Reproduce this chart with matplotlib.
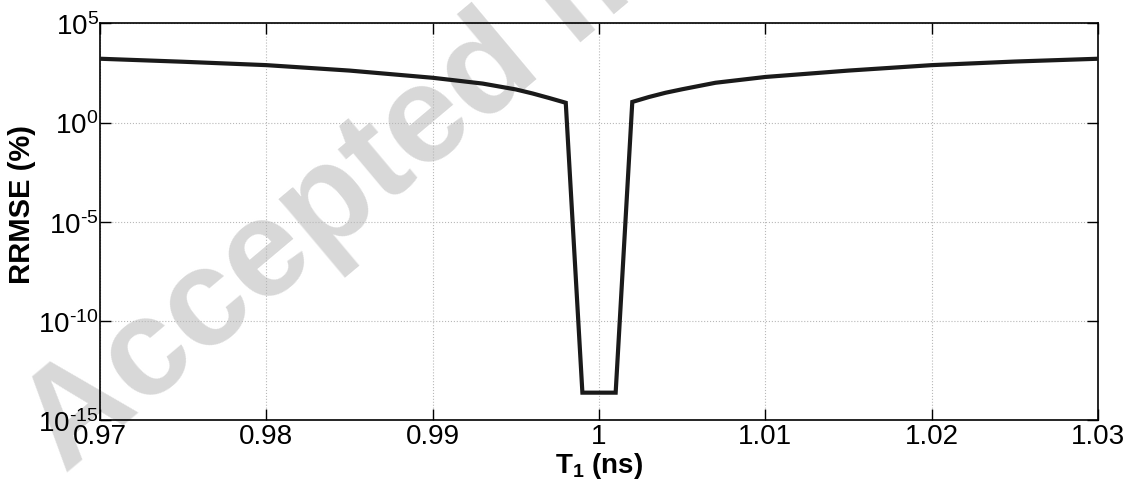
import matplotlib
matplotlib.use("Agg")
import matplotlib.pyplot as plt

plt.rcParams['font.family'] = ['Liberation Sans', 'DejaVu Sans']
plt.rcParams['mathtext.fontset'] = 'custom'
plt.rcParams['mathtext.rm'] = 'Liberation Sans'
plt.rcParams['mathtext.bf'] = 'Liberation Sans:bold'

# T1 (ns) and RRMSE (%)
t1 = [0.970, 0.975, 0.980, 0.985, 0.990, 0.993, 0.995, 0.996, 0.997, 0.998,
      0.999, 1.000, 1.001,
      1.002, 1.003, 1.004, 1.005, 1.007, 1.010, 1.015, 1.020, 1.025, 1.030]
rrmse = [1.66e3, 1.17e3, 7.9e2, 4.2e2, 1.82e2, 9.3e1, 4.7e1, 2.95e1, 1.74e1, 1.0e1,
         2.4e-14, 2.4e-14, 2.4e-14,
         1.1e1, 1.95e1, 3.2e1, 4.8e1, 1.02e2, 2.0e2, 4.2e2, 7.9e2, 1.2e3, 1.66e3]

xticks = [0.97, 0.98, 0.99, 1.00, 1.01, 1.02, 1.03]
xtick_labels = ['0.97', '0.98', '0.99', '1', '1.01', '1.02', '1.03']
yticks = [1e-15, 1e-10, 1e-5, 1e0, 1e5]
ytick_labels = ['$\\mathregular{10^{\u201015}}$', '$\\mathregular{10^{\u201010}}$',
                '$\\mathregular{10^{\u20105}}$', '$\\mathregular{10^{0}}$',
                '$\\mathregular{10^{5}}$']

fig = plt.figure(figsize=(11.28, 4.89), dpi=100)

# watermark sits behind the axes and its labels
fig.text(0.058, 0.03, 'Accepted manuscript', fontsize=100, fontweight='bold',
         color='#d8d8d8', rotation=40, rotation_mode='anchor',
         ha='left', va='baseline', zorder=-1)

ax = fig.add_axes([0.0887, 0.139, 0.8847, 0.811])
ax.set_facecolor('none')

ax.plot(t1, rrmse, color='#1a1a1a', lw=3.0, zorder=3, solid_joinstyle='miter')
ax.set_yscale('log')
ax.set_xlim(0.97, 1.03)
ax.set_ylim(1e-15, 1e5)

ax.set_xticks(xticks)
ax.set_xticklabels(xtick_labels)
ax.set_yticks(yticks)
ax.set_yticklabels(ytick_labels)
ax.minorticks_off()
ax.tick_params(direction='in', top=True, right=True, length=8, width=1,
               labelsize=20, pad=2)
ax.tick_params(axis='y', pad=1)
ax.grid(True, color='#b8b8b8', linestyle=':', linewidth=0.8)
for s in ax.spines.values():
    s.set_linewidth(1.2)

ax.set_xlabel(r'T$_\mathbf{1}$ (ns)', fontsize=20, fontweight='bold', labelpad=1)
ax.set_ylabel('RRMSE (%)', fontsize=21, fontweight='bold')
ax.yaxis.set_label_coords(-0.064, 0.547)

fig.savefig('out.png', dpi=100)
